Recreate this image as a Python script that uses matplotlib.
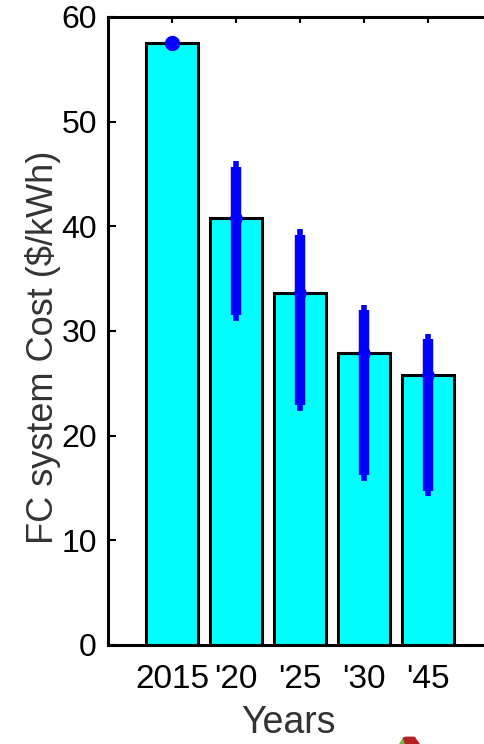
import matplotlib
matplotlib.use("Agg")
import matplotlib.pyplot as plt
from matplotlib.patches import Polygon

# ---------------------------------------------------
# Data
# ---------------------------------------------------
years = ["2015", "'20", "'25", "'30", "'45"]
cost = [57.5, 40.8, 33.6, 27.9, 25.8]
cost_high = [57.5, 46.2, 39.7, 32.5, 29.7]
cost_low = [57.5, 31.0, 22.4, 15.7, 14.2]

plt.rcParams['font.family'] = ['Liberation Sans', 'DejaVu Sans']

fig = plt.figure(figsize=(4.84, 7.44), dpi=100)
ax = fig.add_axes([0.2231, 0.1331, 0.7934, 0.8441])

x = list(range(1, len(years) + 1))
ax.bar(x, cost, width=0.8, color='#00FFFF', edgecolor='black', linewidth=2.2, zorder=2)

# error ranges: thin full-length line, thick line slightly inset
inset = 0.5
for xi, c, hi, lo in zip(x, cost, cost_high, cost_low):
    if hi == lo:
        continue
    ax.vlines(xi, lo, hi, color='#0000FF', linewidth=4, zorder=3)
    ax.vlines(xi, lo + inset, hi - inset, color='#0000FF', linewidth=7.5, zorder=3)

# mean markers
ax.plot(x[:1], cost[:1], 'o', color='#0000FF', markersize=10, zorder=4)
ax.plot(x[1:], cost[1:], 'o', color='#0000FF', markersize=8, zorder=4)

ax.set_xlim(0, 6)
ax.set_ylim(0, 60)
ax.set_xticks(x)
ax.set_xticklabels(years)
ax.set_yticks(range(0, 61, 10))

ax.tick_params(axis='x', which='both', direction='in', length=4, width=1.5,
               top=True, bottom=False, labelsize=24, pad=14)
ax.tick_params(axis='y', which='both', direction='in', length=6, width=1.5,
               left=True, right=True, labelsize=23, pad=8)

for s in ax.spines.values():
    s.set_linewidth(2.2)

ax.set_ylabel('FC system Cost ($/kWh)', fontsize=26, color='#333333')
ax.yaxis.set_label_coords(-0.122, 0.474)
ax.set_xlabel('Years', fontsize=27, color='#333333')
ax.xaxis.set_label_coords(0.471, -0.0955)

# cropped logo corner at the bottom edge
fig.patches.append(Polygon([[0.826, 0.0], [0.838, 0.0], [0.834, 0.008]],
                           closed=True, color='#7CB342', transform=fig.transFigure))
fig.patches.append(Polygon([[0.834, 0.008], [0.838, 0.0], [0.866, 0.0], [0.856, 0.009], [0.838, 0.009]],
                           closed=True, color='#B22222', transform=fig.transFigure))

fig.savefig('out.png', dpi=100)
